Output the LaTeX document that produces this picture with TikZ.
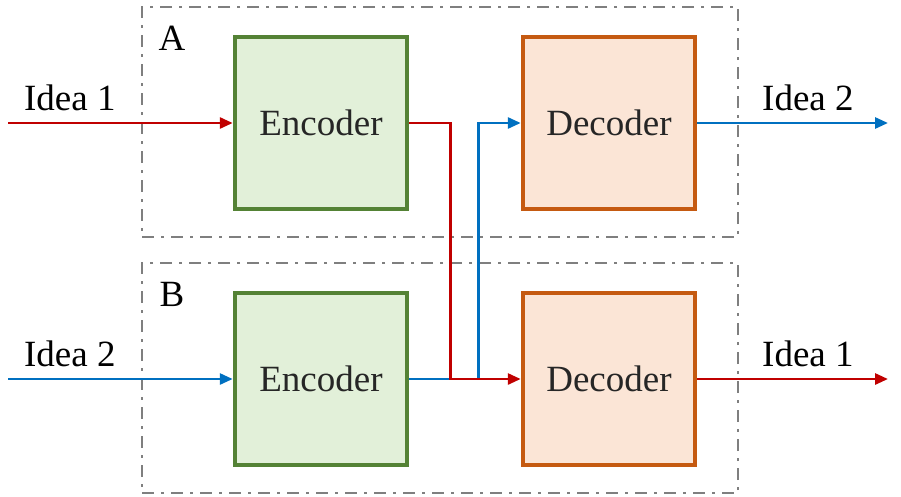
\documentclass[tikz,border=0pt]{standalone}
\usepackage{fontspec}
\setmainfont{Liberation Serif}
\usetikzlibrary{arrows.meta}
\definecolor{encline}{HTML}{548235}
\definecolor{encfill}{HTML}{E2F0D9}
\definecolor{decline}{HTML}{C55A11}
\definecolor{decfill}{HTML}{FBE5D6}
\definecolor{ideared}{HTML}{C00000}
\definecolor{ideablue}{HTML}{0070C0}
\definecolor{frame}{HTML}{7F7F7F}

\begin{document}
\begin{tikzpicture}[x=1pt, y=-1pt, font=\fontsize{37}{42}\selectfont,
  blk/.style={line width=4.5pt, minimum width=172pt, minimum height=172pt, inner sep=0pt, anchor=center, text=black!85},
  enc/.style={blk, draw=encline, fill=encfill},
  dec/.style={blk, draw=decline, fill=decfill},
  grp/.style={draw=frame, line width=2.5pt, dash pattern=on 12pt off 7pt on 3pt off 7pt,
              minimum width=596pt, minimum height=230pt, inner sep=0pt},
  arr/.style={-{Triangle[length=13pt, width=11pt]}, line width=2.8pt},
  lbl/.style={above=7pt, text=black}
]
  \useasboundingbox (0,0) rectangle (901,496);

  % dash-dot groups
  \node[grp] (grpA) at (440,122) {};
  \node[grp] (grpB) at (440,378) {};
  \node[anchor=base] (lblA) at (172,50) {A};
  \node[anchor=base] (lblB) at (172,306) {B};

  % blocks
  \node[enc] (encA) at (321,123) {Encoder};
  \node[dec] (decA) at (609,123) {Decoder};
  \node[enc] (encB) at (321,379) {Encoder};
  \node[dec] (decB) at (609,379) {Decoder};

  % in and out
  \coordinate (inA) at (8,123);
  \coordinate (inB) at (8,379);
  \coordinate (outA) at (888,123);
  \coordinate (outB) at (888,379);

  \draw[arr, ideared] (inA) -- node[lbl, pos=0.275]{Idea 1} (encA);
  \draw[arr, ideablue] (inB) -- node[lbl, pos=0.275]{Idea 2} (encB);
  \draw[arr, ideablue] (decA) -- node[lbl, pos=0.58]{Idea 2} (outA);
  \draw[arr, ideared] (decB) -- node[lbl, pos=0.58]{Idea 1} (outB);

  % swapped paths
  \draw[arr, ideablue] (encB.east) -- ++(69,0) |- (decA.west);
  \draw[arr, ideared] (encA.east) -- ++(41,0) |- (decB.west);
\end{tikzpicture}
\end{document}
